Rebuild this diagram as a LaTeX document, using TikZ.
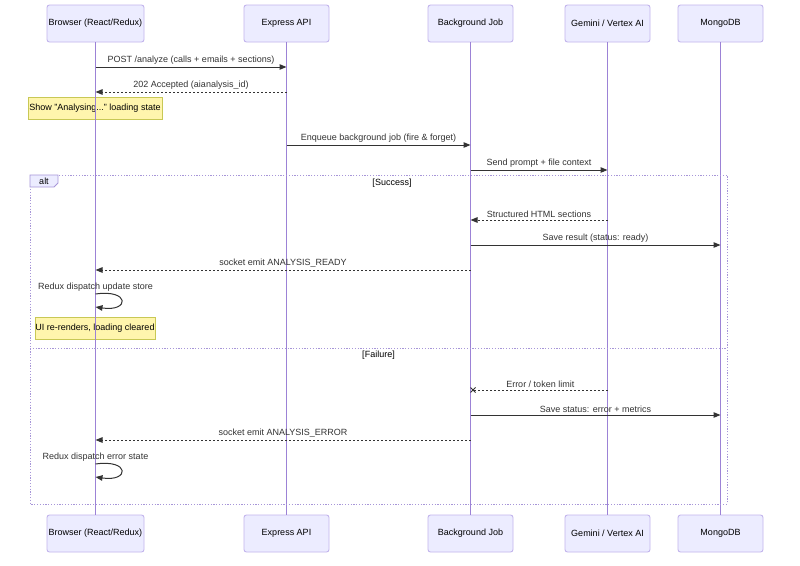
\documentclass[tikz,border=0pt]{standalone}
\usepackage{fontspec}
\setmainfont{Liberation Sans}
\usetikzlibrary{arrows.meta,calc}
\definecolor{actfill}{HTML}{ECECFF}
\definecolor{actborder}{HTML}{C2B4EC}
\definecolor{lifeline}{HTML}{9C82D6}
\definecolor{txt}{HTML}{333333}
\definecolor{notefill}{HTML}{FFF5AD}
\definecolor{noteborder}{HTML}{C8C855}
\definecolor{altborder}{HTML}{A796D8}
\tikzset{
  actor/.style={draw=actborder, fill=actfill, rounded corners=2.5pt, line width=0.9pt,
    minimum width=85pt, minimum height=37pt, inner sep=0pt, font=\fontsize{9}{11}\selectfont, text=black},
  life/.style={draw=lifeline, line width=1.1pt},
  msg/.style={draw=txt, line width=1pt, -{Triangle[length=7pt,width=5.5pt]}},
  reply/.style={msg, dash pattern=on 2pt off 2pt},
  lbl/.style={font=\fontsize{9}{11}\selectfont, text=txt, above=2pt, inner sep=0pt},
  note/.style={draw=noteborder, fill=notefill, line width=0.7pt, inner sep=0pt,
    minimum height=22pt, font=\fontsize{9}{11}\selectfont, text=black},
  altline/.style={draw=altborder, line width=0.9pt, dash pattern=on 1.2pt off 1.6pt},
  guard/.style={font=\fontsize{9}{11}\selectfont, text=black, inner sep=0pt}
}
\begin{document}
\begin{tikzpicture}[x=1pt,y=-1pt]
\useasboundingbox (0,0) rectangle (800,565);
\fill[white] (0,0) rectangle (800,565);

% participants (top)
\node[actor, minimum width=97pt] (tA) at (95.5,23.5) {Browser (React/Redux)};
\node[actor] (tB) at (286.5,23.5) {Express API};
\node[actor] (tC) at (470.5,23.5) {Background Job};
\node[actor] (tD) at (607.5,23.5) {Gemini / Vertex AI};
\node[actor] (tE) at (720.5,23.5) {MongoDB};
% participants (bottom)
\node[actor, minimum width=97pt] (bA) at (95.5,533.5) {Browser (React/Redux)};
\node[actor] (bB) at (286.5,533.5) {Express API};
\node[actor] (bC) at (470.5,533.5) {Background Job};
\node[actor] (bD) at (607.5,533.5) {Gemini / Vertex AI};
\node[actor] (bE) at (720.5,533.5) {MongoDB};

% notes (under lifelines)
\node[note, minimum width=134pt] (n1) at (95,108) {Show "Analysing..." loading state};
\node[note, minimum width=120pt] (n2) at (95,328) {UI re-renders, loading cleared};

% lifelines
\draw[life] (tA) -- (bA);
\draw[life] (tB) -- (bB);
\draw[life] (tC) -- (bC);
\draw[life] (tD) -- (bD);
\draw[life] (tE) -- (bE);

% alt frame
\coordinate (altTL) at (30,175);
\coordinate (altBR) at (727,504);
\draw[altline] (altTL) rectangle (altBR);
\draw[altline] (30,348) -- (727,348);
\draw[draw=altborder, fill=actfill, line width=0.8pt] (30,175) -- (58,175) -- (58,183) -- (54,187) -- (30,187) -- cycle;
\node[guard] (altlbl) at (44,181.5) {alt};
\node[guard] (g1) at (392,183) {[Success]};
\node[guard] (g2) at (378.5,355) {[Failure]};

% message coordinates
\coordinate (m1a) at (95.5,67);  \coordinate (m1b) at (286.5,67);
\coordinate (m2a) at (286.5,92); \coordinate (m2b) at (95.5,92);
\coordinate (m4a) at (286.5,145); \coordinate (m4b) at (470.5,145);
\coordinate (m5a) at (470.5,170); \coordinate (m5b) at (607.5,170);
\coordinate (m7a) at (607.5,220); \coordinate (m7b) at (470.5,220);
\coordinate (m8a) at (470.5,245); \coordinate (m8b) at (720.5,245);
\coordinate (m9a) at (470.5,270); \coordinate (m9b) at (95.5,270);
\coordinate (m10a) at (95.5,294); \coordinate (m10b) at (95.5,307);
\coordinate (m13a) at (607.5,390); \coordinate (m13b) at (473,390);
\coordinate (m14a) at (470.5,415); \coordinate (m14b) at (720.5,415);
\coordinate (m15a) at (470.5,440); \coordinate (m15b) at (95.5,440);
\coordinate (m16a) at (95.5,464); \coordinate (m16b) at (95.5,477);

\draw[msg] (m1a) -- node[lbl] {POST /analyze (calls + emails + sections)} (m1b);
\draw[reply] (m2a) -- node[lbl] {202 Accepted (aianalysis\_id)} (m2b);
\draw[msg] (m4a) -- node[lbl] {Enqueue background job (fire \& forget)} (m4b);
\draw[msg] (m5a) -- node[lbl] {Send prompt + file context} (m5b);
\draw[reply] (m7a) -- node[lbl] {Structured HTML sections} (m7b);
\draw[msg] (m8a) -- node[lbl] {Save result (status: ready)} (m8b);
\draw[reply] (m9a) -- node[lbl] {socket emit ANALYSIS\_READY} (m9b);
\node[lbl] (l10) at (95.5,294) {Redux dispatch update store};
\draw[msg] (m10a) .. controls (130,289) and (130,312) .. (m10b);
\draw[draw=txt, line width=1pt, dash pattern=on 2pt off 2pt] (m13a) -- node[lbl] {Error / token limit} (m13b);
\draw[draw=txt, line width=0.9pt] ($(m13b)+(-2.5,-2.5)$) -- ($(m13b)+(2.5,2.5)$) ($(m13b)+(-2.5,2.5)$) -- ($(m13b)+(2.5,-2.5)$);
\draw[msg] (m14a) -- node[lbl] {Save status: error + metrics} (m14b);
\draw[reply] (m15a) -- node[lbl] {socket emit ANALYSIS\_ERROR} (m15b);
\node[lbl] (l16) at (95.5,464) {Redux dispatch error state};
\draw[msg] (m16a) .. controls (130,459) and (130,482) .. (m16b);
\end{tikzpicture}
\end{document}
